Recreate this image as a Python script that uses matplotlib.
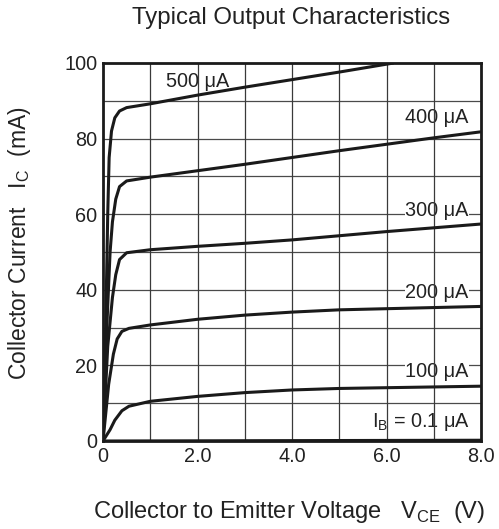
import matplotlib
matplotlib.use("Agg")
import matplotlib.pyplot as plt

plt.rcParams['font.family'] = ['Liberation Sans', 'DejaVu Sans']

# Data (V_CE in V, I_C in mA)
v_500 = [0, 0.05, 0.1, 0.13, 0.18, 0.25, 0.35, 0.5, 1, 2, 3, 4, 5, 6.15]
i_500 = [0, 25, 60, 75, 82, 85.5, 87.3, 88.2, 89.2, 91.5, 93.6, 95.6, 97.6, 100]

v_400 = [0, 0.08, 0.15, 0.2, 0.27, 0.35, 0.5, 1, 2, 3, 4, 5, 6, 7, 8]
i_400 = [0, 30, 50, 58, 64, 67.3, 68.8, 69.8, 71.5, 73.2, 75, 76.8, 78.5, 80.2, 81.8]

v_300 = [0, 0.1, 0.2, 0.27, 0.35, 0.5, 1, 2, 3, 4, 5, 6, 7, 8]
i_300 = [0, 25, 38, 44, 48, 49.8, 50.6, 51.5, 52.3, 53.2, 54.3, 55.4, 56.4, 57.4]

v_200 = [0, 0.12, 0.22, 0.3, 0.4, 0.55, 1, 2, 3, 4, 5, 6, 7, 8]
i_200 = [0, 15, 23, 27, 29, 29.8, 30.7, 32.2, 33.3, 34.1, 34.7, 35.0, 35.3, 35.6]

v_100 = [0, 0.15, 0.25, 0.4, 0.55, 1, 2, 3, 4, 5, 6, 7, 8]
i_100 = [0, 3, 5.5, 8, 9.2, 10.5, 11.8, 12.8, 13.5, 13.9, 14.1, 14.3, 14.5]

v_01 = [0, 8]
i_01 = [0, 0.2]

curves = [(v_500, i_500), (v_400, i_400), (v_300, i_300),
          (v_200, i_200), (v_100, i_100), (v_01, i_01)]

labels = ["500 μA", "400 μA", "300 μA", "200 μA", "100 μA", "I$_\\mathregular{B}$ = 0.1 μA"]
label_x = [2.0, 7.07, 7.07, 7.07, 7.07, 6.73]
label_y = [95.2, 85.7, 61.1, 39.2, 18.3, 4.9]

x_grid = [1, 2, 3, 4, 5, 6, 7]
y_grid = [10, 20, 30, 40, 50, 60, 70, 80, 90]
x_ticks = [0, 2, 4, 6, 8]
x_ticklabels = ["0", "2.0", "4.0", "6.0", "8.0"]
y_ticks = [0, 20, 40, 60, 80, 100]
y_ticklabels = ["0", "20", "40", "60", "80", "100"]

fig = plt.figure(figsize=(4.99, 5.29), dpi=100)
ax = fig.add_axes([103/499, 1-441/529, 378/499, 378/529])

for y in y_grid:
    ax.axhline(y, color='#4a4a4a', lw=0.9, zorder=1)

for lab, lx, ly in zip(labels, label_x, label_y):
    ax.text(lx, ly, lab, ha='center', va='center', fontsize=14.3, color='#222222',
            zorder=2, bbox=dict(facecolor='white', edgecolor='none', pad=0.3))

for x in x_grid:
    ax.axvline(x, color='#3a3a3a', lw=0.9, zorder=2.5)

for v, i in curves:
    ax.plot(v, i, color='#1a1a1a', lw=2.2, zorder=3, solid_capstyle='butt',
            clip_on=True)

ax.set_xlim(0, 8)
ax.set_ylim(0, 100)
ax.set_xticks(x_ticks)
ax.set_xticklabels(x_ticklabels)
ax.set_yticks(y_ticks)
ax.set_yticklabels(y_ticklabels)
ax.tick_params(length=0, labelsize=14.3, pad=4, colors='#222222')
for s in ax.spines.values():
    s.set_linewidth(2.0)
    s.set_color('#1a1a1a')

fig.text(291.5/499, 1-18/529, "Typical Output Characteristics", ha='center', va='center',
         fontsize=17.3, color='#222222')
fig.text(289/499, 1-512/529, "Collector to Emitter Voltage   V$_\\mathregular{CE}$  (V)",
         ha='center', va='center', fontsize=17, color='#222222')
fig.text(20/499, 1-243/529, "Collector Current   I$_\\mathregular{C}$  (mA)",
         ha='center', va='center', rotation=90, fontsize=16.5, color='#222222')

fig.savefig("out.png", dpi=100)
